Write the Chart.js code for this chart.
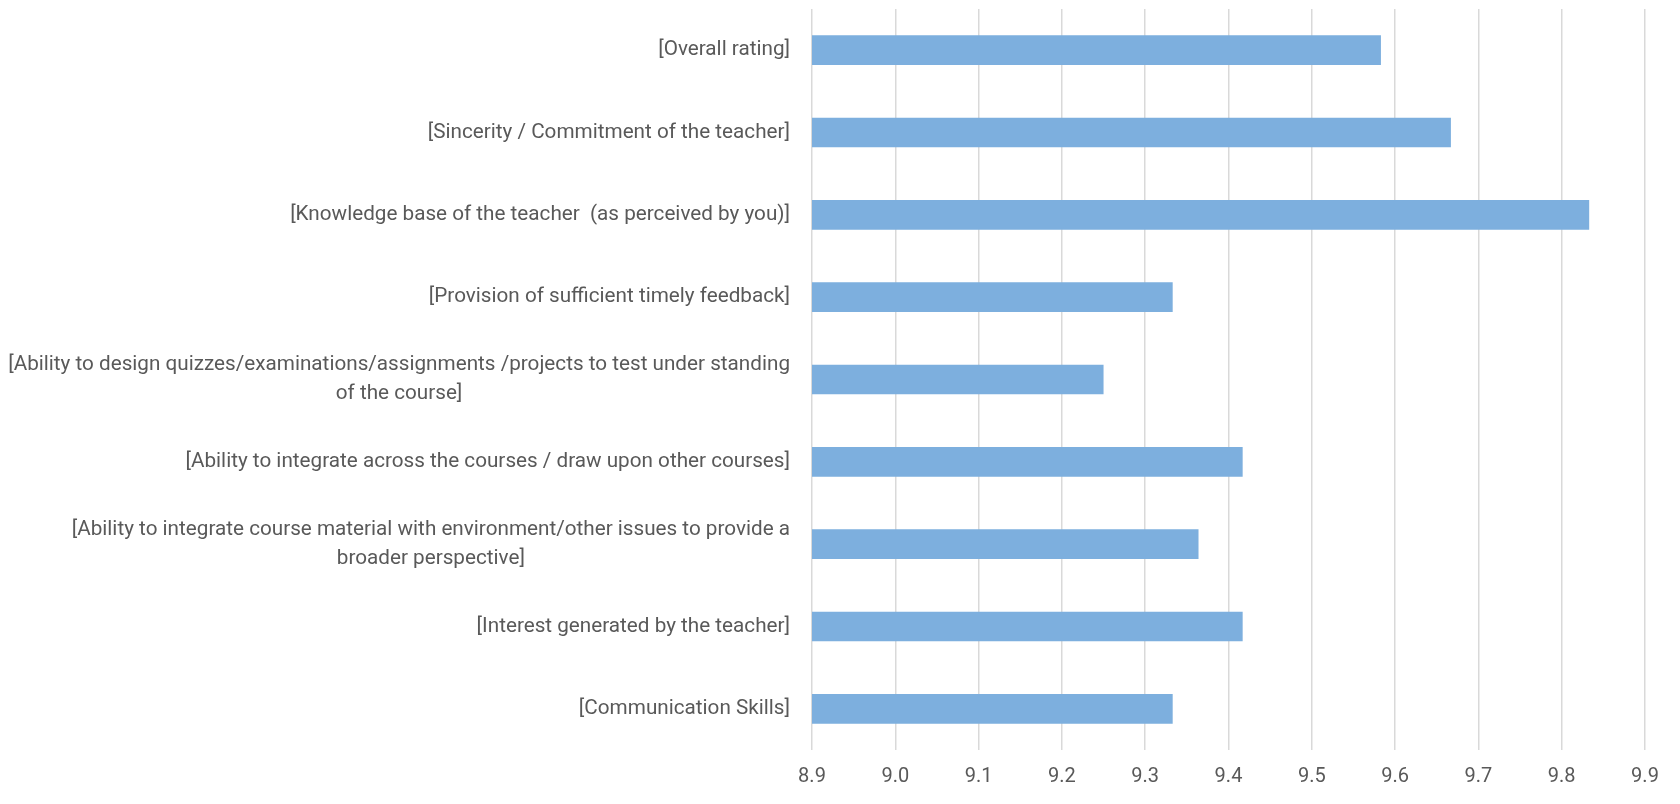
<!DOCTYPE html>
<html>
<head>
<meta charset="utf-8">
<script src="https://cdn.jsdelivr.net/npm/chart.js@4"></script>
<style>
  html, body { margin: 0; padding: 0; background: #fff; }
  #wrap { width: 1680px; height: 804px; }
</style>
</head>
<body>
<div id="wrap"><canvas id="ratingChart" width="1680" height="804"></canvas></div>
<script>
// categories, top to bottom
const categories = [
    '[Overall rating]',
    '[Sincerity / Commitment of the teacher]',
    '[Knowledge base of the teacher  (as perceived by you)]',
    '[Provision of sufficient timely feedback]',
    ['[Ability to design quizzes/examinations/assignments /projects to test under standing', 'of the course]'],
    '[Ability to integrate across the courses / draw upon other courses]',
    ['[Ability to integrate course material with environment/other issues to provide a', 'broader perspective]'],
    '[Interest generated by the teacher]',
    '[Communication Skills]'
];
const ratings = [9.583, 9.667, 9.833, 9.333, 9.25, 9.417, 9.364, 9.417, 9.333];
const xTicks = [8.9, 9.0, 9.1, 9.2, 9.3, 9.4, 9.5, 9.6, 9.7, 9.8, 9.9];

const textColor = '#595959';
const fontFamily = 'Roboto, "Open Sans", sans-serif';
const fontSize = 20.7;

// draws the category labels: block right-aligned to the axis, lines centred inside the block
const categoryLabels = {
    id: 'categoryLabels',
    afterDraw(chart) {
        const ctx = chart.ctx;
        const yScale = chart.scales.y;
        const right = chart.chartArea.left - 22;
        const lineH = 29;
        ctx.save();
        ctx.font = fontSize + 'px ' + fontFamily;
        ctx.fillStyle = textColor;
        ctx.textAlign = 'center';
        ctx.textBaseline = 'middle';
        categories.forEach((label, i) => {
            const lines = Array.isArray(label) ? label : [label];
            const maxW = Math.max(...lines.map(l => ctx.measureText(l).width));
            const cx = right - maxW / 2;
            const cy = yScale.getPixelForValue(i);
            lines.forEach((line, j) => {
                ctx.fillText(line, cx, cy + (j - (lines.length - 1) / 2) * lineH);
            });
        });
        ctx.restore();
    }
};

const ctx = document.getElementById('ratingChart').getContext('2d');
const chart = new Chart(ctx, {
    type: 'bar',
    data: {
        labels: categories,
        datasets: [{
            data: ratings,
            backgroundColor: '#7DAFDE',
            categoryPercentage: 1.0,
            barPercentage: 0.36
        }]
    },
    options: {
        indexAxis: 'y',
        responsive: false,
        animation: false,
        layout: { padding: { top: 9, right: 35, left: 0, bottom: 0 } },
        plugins: {
            legend: { display: false },
            tooltip: { enabled: false }
        },
        scales: {
            x: {
                min: 8.9,
                max: 9.9,
                afterBuildTicks: function(scale) {
                    scale.ticks = xTicks.map(v => ({ value: v }));
                },
                afterFit: function(scale) {
                    scale.height = 54;
                },
                border: { display: false },
                grid: { color: '#D9D9D9', lineWidth: 1.5, drawTicks: false },
                ticks: {
                    color: textColor,
                    padding: 15,
                    font: { family: fontFamily, size: 20 },
                    callback: function(value) { return Number(value).toFixed(1); }
                }
            },
            y: {
                afterFit: function(scale) {
                    scale.width = 812;
                },
                border: { display: false },
                grid: { display: false },
                ticks: { display: false }
            }
        }
    },
    plugins: [categoryLabels]
});
</script>
</body>
</html>
